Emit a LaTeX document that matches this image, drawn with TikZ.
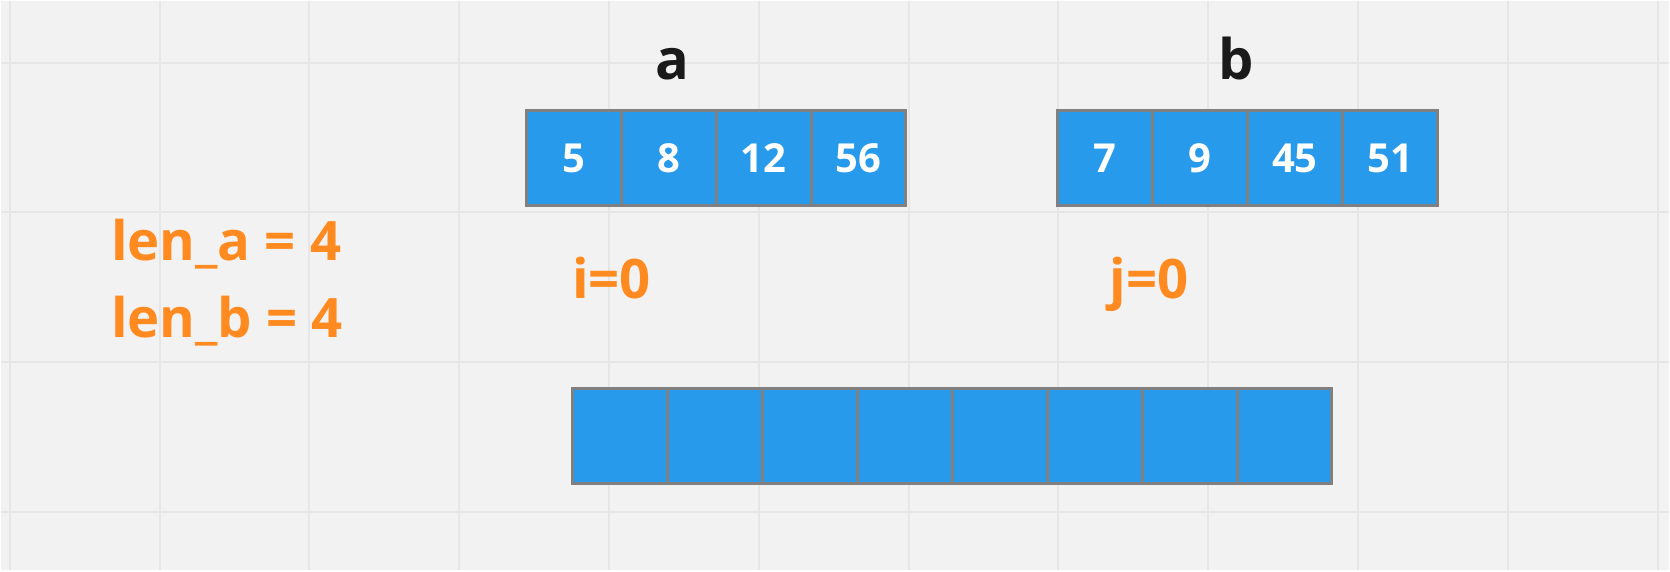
\documentclass[tikz,border=0pt]{standalone}
\usepackage{fontspec}
\setmainfont{Open Sans}
\usepackage{tikz}
\definecolor{bgcol}{HTML}{F2F2F2}
\definecolor{gridcol}{HTML}{E6E6E6}
\definecolor{cellblue}{HTML}{289AEC}
\definecolor{cellgray}{HTML}{808080}
\definecolor{ptrorange}{HTML}{FF8A1F}
\definecolor{titleblack}{HTML}{1A1A1A}
\tikzstyle{cell} = [draw=cellgray, line width=3pt, fill=cellblue, minimum width=95pt, minimum height=95pt, inner sep=0pt, outer sep=0pt, text=white, font=\bfseries\fontsize{40}{40}\selectfont]
\tikzstyle{title} = [inner sep=0pt, anchor=base, text=titleblack, font=\bfseries\fontsize{56}{56}\selectfont]
\tikzstyle{var} = [inner sep=0pt, text=ptrorange, font=\bfseries\fontsize{54.5}{54.5}\selectfont]

\begin{document}
\begin{tikzpicture}[x=1pt,y=-1pt]
	\fill[bgcol] (0,0) rectangle (1670,570);
	\foreach \k in {0,...,11} \draw[gridcol, line width=2pt] (8.7+150*\k,0) -- (8.7+150*\k,570);
	\foreach \k in {0,...,3} \draw[gridcol, line width=2pt] (0,61.7+150*\k) -- (1670,61.7+150*\k);
	\node[title] (labA) at (672,79) {a};
	\node[title] (labB) at (1236.5,79) {b};
	\foreach \v [count=\k from 0] in {5,8,12,56} \node[cell] (a\k) at (573.5+95*\k,157.5) {\v};
	\foreach \v [count=\k from 0] in {7,9,45,51} \node[cell] (b\k) at (1105.2+95.15*\k,157.5) {\v};
	\foreach \k in {0,...,7} \node[cell] (c\k) at (620+95*\k,435.7) {};
	\node[var, anchor=base west] (lenA) at (110,260) {len\_a = 4};
	\node[var, anchor=base west] (lenB) at (110,336.7) {len\_b = 4};
	\node[var, anchor=base east] (ptrI) at (651,298) {i=0};
	\node[var, anchor=base east] (ptrJ) at (1189,298) {j=0};
\end{tikzpicture}
\end{document}
